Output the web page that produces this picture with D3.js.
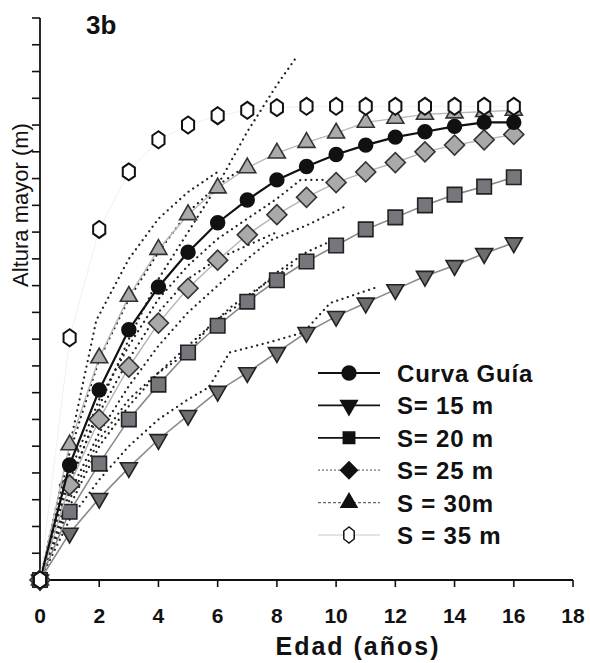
<!DOCTYPE html>
<html>
<head>
<meta charset="utf-8">
<script src="https://cdn.jsdelivr.net/npm/d3@7/dist/d3.min.js"></script>
<style>
  body { margin: 0; background: #fff; }
  svg text { font-family: "Liberation Sans", Arial, sans-serif; font-weight: bold; fill: #111; }
</style>
</head>
<body>
<div id="chart"></div>
<script>
var width = 590,
    height = 663

// edades (años)
var ages = [0,1,2,3,4,5,6,7,8,9,10,11,12,13,14,15,16]
var xTicks = [0,2,4,6,8,10,12,14,16,18]

// altura mayor (m) por curva
var curvaGuia = [0,8.6,14.2,18.7,21.9,24.5,26.7,28.4,29.9,30.9,31.8,32.5,33.1,33.5,33.9,34.2,34.2]
var s15 = [0,3.5,6.1,8.4,10.5,12.3,14.1,15.5,17.0,18.5,19.7,20.7,21.7,22.7,23.5,24.4,25.2]
var s20 = [0,5.1,8.7,12.0,14.6,17.0,19.0,20.8,22.4,23.8,25.0,26.2,27.1,28.0,28.8,29.4,30.1]
var s25 = [0,7.1,12.0,15.9,19.2,21.8,23.9,25.8,27.3,28.6,29.7,30.5,31.2,32.0,32.5,32.9,33.3]
var s30 = [0,10.1,16.6,21.2,24.7,27.3,29.3,30.8,31.9,32.7,33.4,34.2,34.5,34.8,34.9,35.0,35.1]
var s35 = [0,18.1,26.2,30.5,32.9,34.0,34.7,35.1,35.3,35.4,35.4,35.4,35.4,35.4,35.4,35.4,35.4]

// arboles observados (lineas punteadas): [edad, altura]
var tree1 = [[0,0],[1,7],[2,13],[3,18],[4,22.5],[5,26],[6,29.5],[7,33.5],[8,37],[8.7,39.2]]
var tree2 = [[0,0],[1,9.5],[2,16.5],[3,21],[4,24.5],[5,27.5],[6,29.5],[7,31]]
var tree3 = [[0,0],[1,8],[2,13.5],[3,17.5],[4,21],[5,23.5],[6,25.5],[7,27],[8,28.5],[8.8,29.9],[9.7,29.9]]
var tree4 = [[0,0],[1,6.5],[2,11],[3,14.5],[4,17.5],[5,20],[6,22],[7,24],[7.8,25.4],[9,26.5],[10.4,28]]
var tree5 = [[0,0],[1,5.5],[2,10],[3,13],[4,15.5],[5,17.5],[6,19.5],[7,21],[8,23],[9,24.5],[10,25.5]]
var tree6 = [[0,0],[1,4.5],[2,7.5],[3,10],[4,12],[5,13.5],[5.7,14.4],[6.4,17],[7.8,17.8],[8.9,18.5],[9.8,20.7],[11.4,21.9]]
var tree7 = [[0,0],[1,6],[2,10.5],[3,13.5],[4,15.5],[5,17],[5.7,18.9],[6.5,20.5],[7.5,22],[8.5,23.5]]
var tree8 = [[0,0],[1,10],[1.9,19.4],[3,24],[4,27],[5,29],[6,30.5]]
var tree9 = [[0,0],[1,7.5],[2,12.5],[3,16.5],[4,20],[5,22.5],[6,24],[7,25],[8,26]]
var trees = [tree1,tree2,tree3,tree4,tree5,tree6,tree7,tree8,tree9]

var legendNames = ["Curva Guía","S= 15 m","S= 20 m","S= 25 m","S = 30m","S = 35 m"]

var svg = d3.select("#chart").append("svg")
    .attr("width", width)
    .attr("height", height)

var x = d3.scaleLinear().domain([0,18]).range([40,573])
var y = d3.scaleLinear().domain([0,42]).range([580,18])

// hexagono (puntas arriba/abajo)
function hexPath(rx, ry) {
  var pts = d3.range(6).map(function(i) {
    var a = Math.PI/2 + i*Math.PI/3
    return [rx*Math.cos(a), -ry*Math.sin(a)]
  })
  return "M" + pts.join("L") + "Z"
}

function markerPath(sym, size, hx, hy) {
  return sym === "hex" ? hexPath(hx, hy) : d3.symbol().type(sym).size(size)()
}

var series = [
  {name: legendNames[1], vals: s15, sym: d3.symbolTriangle, rot: 180, size: 125, fill: "#6e6e70", stroke: "#222", line: "#8a8a8a", lw: 1.6},
  {name: legendNames[2], vals: s20, sym: d3.symbolSquare, rot: 0, size: 210, fill: "#77767c", stroke: "#222", line: "#8a8a8a", lw: 1.6},
  {name: legendNames[3], vals: s25, sym: d3.symbolSquare, rot: 45, size: 200, fill: "#a9a9a9", stroke: "#333", line: "#b5b5b5", lw: 1.4},
  {name: legendNames[4], vals: s30, sym: d3.symbolTriangle, rot: 0, size: 125, fill: "#ababab", stroke: "#333", line: "#b8b8b8", lw: 1.4},
  {name: legendNames[0], vals: curvaGuia, sym: d3.symbolCircle, rot: 0, size: 150, fill: "#111", stroke: "#111", line: "#111", lw: 2.2},
  {name: legendNames[5], vals: s35, sym: "hex", rot: 0, size: 0, fill: "#fff", stroke: "#111", line: "#eef2f2", lw: 1}
]

var line = d3.line()
    .x(function(d) { return x(d[0]) })
    .y(function(d) { return y(d[1]) })

// ejes
svg.append("line")
    .attr("x1", x(0)).attr("x2", x(0))
    .attr("y1", y(0)).attr("y2", y(42))
    .attr("stroke", "#111").attr("stroke-width", 1.8)
svg.append("line")
    .attr("x1", x(0)).attr("x2", x(18))
    .attr("y1", y(0)).attr("y2", y(0))
    .attr("stroke", "#111").attr("stroke-width", 1.8)

svg.selectAll(".ytick")
    .data(d3.range(0, 43, 2))
    .enter().append("line")
      .attr("class", "ytick")
      .attr("x1", x(0) - 8).attr("x2", x(0))
      .attr("y1", function(d) { return y(d) }).attr("y2", function(d) { return y(d) })
      .attr("stroke", "#111").attr("stroke-width", 1.6)

svg.selectAll(".xtick")
    .data(xTicks)
    .enter().append("line")
      .attr("class", "xtick")
      .attr("x1", function(d) { return x(d) }).attr("x2", function(d) { return x(d) })
      .attr("y1", y(0)).attr("y2", y(0) + 7)
      .attr("stroke", "#111").attr("stroke-width", 1.6)

svg.selectAll(".xlabel")
    .data(xTicks)
    .enter().append("text")
      .attr("class", "xlabel")
      .attr("x", function(d) { return x(d) })
      .attr("y", 623)
      .attr("text-anchor", "middle")
      .style("font-size", "21px")
      .text(function(d) { return d })

svg.append("text")
    .attr("x", 358).attr("y", 655)
    .attr("text-anchor", "middle")
    .style("font-size", "25px")
    .style("letter-spacing", "2px")
    .text("Edad (años)")

svg.append("text")
    .attr("transform", "translate(28,205) rotate(-90)")
    .attr("text-anchor", "middle")
    .style("font-size", "22px")
    .style("font-weight", "normal")
    .text("Altura mayor (m)")

svg.append("text")
    .attr("x", 86).attr("y", 34)
    .style("font-size", "26px")
    .text("3b")

// arboles observados
svg.append("g").selectAll("path")
    .data(trees)
    .enter().append("path")
      .attr("d", line)
      .attr("fill", "none")
      .attr("stroke", "#222")
      .attr("stroke-width", 2.2)
      .attr("stroke-linecap", "round")
      .attr("stroke-dasharray", "0.1,5.5")

// curvas
series.forEach(function(s) {
  var pts = ages.map(function(a, i) { return [a, s.vals[i]] })
  svg.append("path")
      .attr("d", line(pts))
      .attr("fill", "none")
      .attr("stroke", s.line)
      .attr("stroke-width", s.lw)
  svg.append("g").selectAll("path")
      .data(pts)
      .enter().append("path")
        .attr("d", markerPath(s.sym, s.size, 7, 8.5))
        .attr("transform", function(d) { return "translate(" + x(d[0]) + "," + y(d[1]) + ") rotate(" + s.rot + ")" })
        .attr("fill", s.fill)
        .attr("stroke", s.stroke)
        .attr("stroke-width", s.sym === "hex" ? 2 : 1.6)
})

// leyenda
var legendRows = [
  {name: legendNames[0], sym: d3.symbolCircle, rot: 0, size: 150, fill: "#111", line: "#111", lw: 2, dash: null},
  {name: legendNames[1], sym: d3.symbolTriangle, rot: 180, size: 120, fill: "#111", line: "#111", lw: 1.8, dash: null},
  {name: legendNames[2], sym: d3.symbolSquare, rot: 0, size: 130, fill: "#111", line: "#111", lw: 1.8, dash: null},
  {name: legendNames[3], sym: d3.symbolSquare, rot: 45, size: 140, fill: "#111", line: "#777", lw: 1.2, dash: "2,2"},
  {name: legendNames[4], sym: d3.symbolTriangle, rot: 0, size: 110, fill: "#111", line: "#666", lw: 1.2, dash: "3,2"},
  {name: legendNames[5], sym: "hex", rot: 0, size: 0, fill: "#fff", line: "#d4dede", lw: 1.5, dash: null}
]

var legend = svg.append("g").attr("transform", "translate(318,373)")
var rows = legend.selectAll("g")
    .data(legendRows)
    .enter().append("g")
      .attr("transform", function(d, i) { return "translate(0," + (i*32.4) + ")" })

rows.append("line")
    .attr("x1", 0).attr("x2", 62)
    .attr("stroke", function(d) { return d.line })
    .attr("stroke-width", function(d) { return d.lw })
    .attr("stroke-dasharray", function(d) { return d.dash })
rows.append("path")
    .attr("d", function(d) { return markerPath(d.sym, d.size, 6, 8) })
    .attr("transform", function(d) { return "translate(31,0) rotate(" + d.rot + ")" })
    .attr("fill", function(d) { return d.fill })
    .attr("stroke", "#111")
    .attr("stroke-width", 1.5)
rows.append("text")
    .attr("x", 79).attr("y", 9)
    .style("font-size", "24px")
    .style("letter-spacing", "0.8px")
    .text(function(d) { return d.name })
</script>
</body>
</html>
